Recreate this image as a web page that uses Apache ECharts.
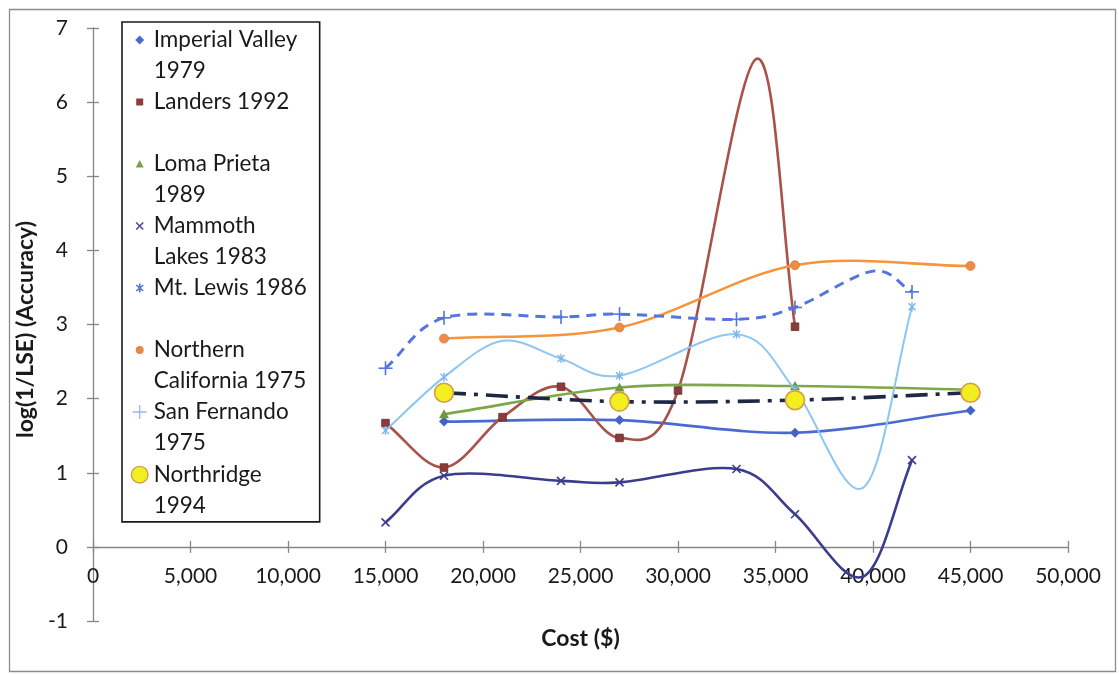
<!DOCTYPE html>
<html>
<head>
<meta charset="utf-8">
<title>Accuracy vs. cost</title>
<script src="https://cdn.jsdelivr.net/npm/echarts@6/dist/echarts.min.js"></script>
<style>
  html, body { margin: 0; padding: 0; background: #ffffff; }
  #chart { width: 1119px; height: 675px; }
</style>
</head>
<body>
<div id="chart"></div>
<script>
// ---- data: survey cost (US$) vs. accuracy log(1/LSE), one pair of arrays per earthquake ----
// a 0 in the *Marked arrays means the curve passes through that value without a marker
const imperialValleyCost = [18000, 27000, 36000, 45000];
const imperialValleyAcc  = [1.69, 1.71, 1.54, 1.84];

const landersCost   = [15000, 18000, 21000, 24000, 27000, 30000, 34000, 36000];
const landersAcc    = [1.67, 1.07, 1.75, 2.16, 1.47, 2.11, 6.58, 2.97];
const landersMarked = [1, 1, 1, 1, 1, 1, 0, 1];

const lomaPrietaCost = [18000, 27000, 36000, 45000];
const lomaPrietaAcc  = [1.79, 2.15, 2.17, 2.12];

const mammothCost   = [15000, 18000, 24000, 27000, 33000, 36000, 39500, 42000];
const mammothAcc    = [0.33, 0.96, 0.89, 0.87, 1.05, 0.44, -0.40, 1.17];
const mammothMarked = [1, 1, 1, 1, 1, 1, 0, 1];

const mtLewisCost   = [15000, 18000, 21000, 24000, 27000, 33000, 36000, 39500, 42000];
const mtLewisAcc    = [1.57, 2.29, 2.78, 2.54, 2.31, 2.87, 2.12, 0.80, 3.24];
const mtLewisMarked = [1, 1, 0, 1, 1, 1, 1, 0, 1];

const northernCalCost = [18000, 27000, 36000, 45000];
const northernCalAcc  = [2.81, 2.96, 3.80, 3.79];

const sanFernandoCost   = [15000, 18000, 24000, 27000, 33000, 36000, 40000, 42000];
const sanFernandoAcc    = [2.41, 3.09, 3.10, 3.14, 3.07, 3.23, 3.72, 3.44];
const sanFernandoMarked = [1, 1, 1, 1, 1, 1, 0, 1];

const northridgeCost = [18000, 27000, 36000, 45000];
const northridgeAcc  = [2.08, 1.96, 1.98, 2.08];

// legend captions, broken over two lines like the original key
const seriesNames = [
  'Imperial Valley 1979', 'Landers 1992', 'Loma Prieta 1989', 'Mammoth Lakes 1983',
  'Mt. Lewis 1986', 'Northern California 1975', 'San Fernando 1975', 'Northridge 1994'
];
const legendCaptions = [
  'Imperial Valley\n1979', 'Landers 1992\n ', 'Loma Prieta\n1989', 'Mammoth\nLakes 1983',
  'Mt. Lewis 1986\n ', 'Northern\nCalifornia 1975', 'San Fernando\n1975', 'Northridge\n1994'
];

// axis ranges
const costAxis = { min: 0, max: 50000, step: 5000 };
const accAxis  = { min: -1, max: 7, step: 1 };

// ---- drawing ----
const FONT = 'Lato, "Open Sans", "Liberation Sans", sans-serif';
const W = 1119, H = 675;
const gridBox = { left: 93, right: 51, top: 28, bottom: 54 };
// the cost axis crosses the accuracy axis at 0: shift it up from the grid's bottom edge
const plotH = H - gridBox.top - gridBox.bottom;
const costAxisOffset = -plotH * (0 - accAxis.min) / (accAxis.max - accAxis.min);

const looks = [
  { marker: 'diamond',  line: '#4A6AD0', mark: '#4562CC', key: '#4A6AD0', width: 2.6 },
  { marker: 'square',   line: '#A8524A', mark: '#8A3C3A', key: '#8E3F3C', width: 2.6 },
  { marker: 'triangle', line: '#7EA74C', mark: '#6F9A42', key: '#7A9F4D', width: 2.6 },
  { marker: 'cross',    line: '#3B3C8E', mark: '#3B3C8E', key: '#5147A8', width: 2.6 },
  { marker: 'star',     line: '#8DC6F2', mark: '#7DB6EC', key: '#5270D6', width: 2.0 },
  { marker: 'dot',      line: '#F5943C', mark: '#EE8C45', key: '#E38A4E', width: 2.6 },
  { marker: 'plus',     line: '#5474E0', mark: '#5474E0', key: '#98B8F0', width: 3.0, dash: [10, 7] },
  { marker: 'ring',     line: '#1E2744', mark: '#F3EE1F', key: '#F3EE1F', width: 3.6, dash: [22, 8, 4, 8] }
];

const table = [
  [imperialValleyCost, imperialValleyAcc, null],
  [landersCost, landersAcc, landersMarked],
  [lomaPrietaCost, lomaPrietaAcc, null],
  [mammothCost, mammothAcc, mammothMarked],
  [mtLewisCost, mtLewisAcc, mtLewisMarked],
  [northernCalCost, northernCalAcc, null],
  [sanFernandoCost, sanFernandoAcc, sanFernandoMarked],
  [northridgeCost, northridgeAcc, null]
];

// smooth curve through screen points: cubic Bezier segments, tangent at each point
// parallel to the chord of its neighbours (Catmull-Rom style, 1/3 arm at the ends)
function smoothPath(pts) {
  const f = (v) => v.toFixed(2);
  let d = 'M' + f(pts[0][0]) + ' ' + f(pts[0][1]);
  for (let i = 0; i < pts.length - 1; i++) {
    const p1 = pts[i], p2 = pts[i + 1];
    const p0 = i > 0 ? pts[i - 1] : p1;
    const p3 = i < pts.length - 2 ? pts[i + 2] : p2;
    const k0 = p0 === p1 ? 1 / 3 : 1 / 6;
    const k3 = p3 === p2 ? 1 / 3 : 1 / 6;
    const c1 = [p1[0] + (p2[0] - p0[0]) * k0, p1[1] + (p2[1] - p0[1]) * k0];
    const c2 = [p2[0] - (p3[0] - p1[0]) * k3, p2[1] - (p3[1] - p1[1]) * k3];
    d += 'C' + f(c1[0]) + ' ' + f(c1[1]) + ' ' + f(c2[0]) + ' ' + f(c2[1]) + ' ' + f(p2[0]) + ' ' + f(p2[1]);
  }
  return d;
}

function seg(x1, y1, x2, y2, color, w) {
  return { type: 'line', shape: { x1, y1, x2, y2 }, style: { stroke: color, lineWidth: w }, silent: true };
}

function markerEls(kind, x, y, color) {
  switch (kind) {
    case 'diamond':
      return [{ type: 'polygon', shape: { points: [[x, y - 5], [x + 5, y], [x, y + 5], [x - 5, y]] }, style: { fill: color } }];
    case 'square':
      return [{ type: 'rect', shape: { x: x - 3.8, y: y - 3.8, width: 7.6, height: 7.6 }, style: { fill: color, stroke: '#6C2B2A', lineWidth: 0.8 } }];
    case 'triangle':
      return [{ type: 'polygon', shape: { points: [[x, y - 5], [x + 5, y + 4], [x - 5, y + 4]] }, style: { fill: color } }];
    case 'cross':
      return [seg(x - 4, y - 4, x + 4, y + 4, color, 1.6), seg(x - 4, y + 4, x + 4, y - 4, color, 1.6)];
    case 'star':
      return [seg(x - 3.5, y - 3.5, x + 3.5, y + 3.5, color, 1.4), seg(x - 3.5, y + 3.5, x + 3.5, y - 3.5, color, 1.4),
              seg(x, y - 4.5, x, y + 4.5, color, 1.4)];
    case 'plus':
      return [seg(x - 7, y, x + 7, y, color, 1.6), seg(x, y - 7, x, y + 7, color, 1.6)];
    case 'dot':
      return [{ type: 'circle', shape: { cx: x, cy: y, r: 4.5 }, style: { fill: color, stroke: '#D77E3C', lineWidth: 0.8 } }];
    case 'ring':
      return [{ type: 'circle', shape: { cx: x, cy: y, r: 9.5 }, style: { fill: color, stroke: '#D29E4C', lineWidth: 1.6 } }];
  }
  return [];
}

// legend keys: filled outlines drawn in an 18 x 62 box, centred on the first text line
function bar(x1, y1, x2, y2, t) {
  const dx = x2 - x1, dy = y2 - y1, L = Math.hypot(dx, dy);
  const nx = -dy / L * t / 2, ny = dx / L * t / 2;
  const f = (v) => v.toFixed(2);
  return 'M' + f(x1 + nx) + ' ' + f(y1 + ny) + 'L' + f(x2 + nx) + ' ' + f(y2 + ny) +
         'L' + f(x2 - nx) + ' ' + f(y2 - ny) + 'L' + f(x1 - nx) + ' ' + f(y1 - ny) + 'Z';
}
function keyIcon(kind) {
  const cx = 9, cy = 15.5;
  let p = 'M0 0M18 62';
  const circ = (r) => 'M' + (cx - r) + ' ' + cy + 'A' + r + ' ' + r + ' 0 1 0 ' + (cx + r) + ' ' + cy +
                      'A' + r + ' ' + r + ' 0 1 0 ' + (cx - r) + ' ' + cy + 'Z';
  switch (kind) {
    case 'diamond': p += 'M9 11L13.5 15.5L9 20L4.5 15.5Z'; break;
    case 'square': p += 'M5.5 12H12.5V19H5.5Z'; break;
    case 'triangle': p += 'M9 11.5L13 19L5 19Z'; break;
    case 'cross': p += bar(5.5, 12, 12.5, 19, 1.7) + bar(5.5, 19, 12.5, 12, 1.7); break;
    case 'star': p += bar(5.5, 12.5, 12.5, 18.5, 1.6) + bar(5.5, 18.5, 12.5, 12.5, 1.6) + bar(9, 11, 9, 20, 1.6); break;
    case 'plus': p += bar(2, 15.5, 16, 15.5, 1.3) + bar(9, 8.5, 9, 22.5, 1.3); break;
    case 'dot': p += circ(4); break;
    case 'ring': p += circ(8.3); break;
  }
  return 'path://' + p;
}

const series = table.map(([xs, ys, marked], si) => {
  const look = looks[si];
  return {
    type: 'custom',
    name: seriesNames[si],
    coordinateSystem: 'cartesian2d',
    xAxisIndex: 0,
    yAxisIndex: 0,
    clip: false,
    silent: true,
    itemStyle: { color: look.key },
    data: xs.map((x, i) => [x, ys[i]]),
    renderItem(params, api) {
      const i = params.dataIndex;
      const children = [];
      if (i === 0) {
        const pts = xs.map((x, k) => api.coord([x, ys[k]]));
        children.push({
          type: 'path',
          shape: { pathData: smoothPath(pts) },
          style: { fill: null, stroke: look.line, lineWidth: look.width, lineDash: look.dash || null, lineCap: 'butt', lineJoin: 'round' },
          silent: true
        });
      }
      if (!marked || marked[i]) {
        const c = api.coord([api.value(0), api.value(1)]);
        markerEls(look.marker, c[0], c[1], look.mark).forEach((el) => children.push(el));
      }
      return { type: 'group', children };
    }
  };
});

const axisGrey = '#868686';
const inkColor = '#1A1A1A';
const option = {
  backgroundColor: '#ffffff',
  animation: false,
  textStyle: { fontFamily: FONT },
  grid: Object.assign({ containLabel: false, outerBoundsMode: 'none' }, gridBox),
  graphic: [{
    type: 'rect', left: 7, top: 7, z: -10,
    shape: { width: 1106, height: 662 },
    style: { fill: null, stroke: '#8C8C8C', lineWidth: 1.3 }
  }],
  legend: {
    orient: 'vertical',
    left: 122, top: 22,
    padding: [2.5, 13, 0, 8],
    itemGap: 0,
    itemWidth: 18, itemHeight: 62,
    selectedMode: false,
    borderColor: inkColor, borderWidth: 1.6,
    backgroundColor: '#ffffff',
    itemStyle: { borderWidth: 0 },
    textStyle: { fontFamily: FONT, fontSize: 22.5, color: inkColor, lineHeight: 31 },
    formatter: (name) => legendCaptions[seriesNames.indexOf(name)],
    data: seriesNames.map((name, i) => ({
      name,
      icon: keyIcon(looks[i].marker),
      itemStyle: looks[i].marker === 'ring'
        ? { color: looks[i].key, borderColor: '#D29E4C', borderWidth: 1.4 }
        : { color: looks[i].key, borderWidth: 0 }
    }))
  },
  xAxis: [{
    type: 'value',
    position: 'bottom',
    offset: costAxisOffset,
    min: costAxis.min, max: costAxis.max, interval: costAxis.step,
    name: 'Cost ($)', nameLocation: 'middle', nameGap: 80,
    nameTextStyle: { fontFamily: FONT, fontSize: 23, fontWeight: 'bold', color: inkColor },
    axisLine: { show: true, onZero: false, lineStyle: { color: axisGrey, width: 1.3 } },
    axisTick: { show: true, length: 6, lineStyle: { color: axisGrey, width: 1.3 } },
    axisLabel: { fontFamily: FONT, fontSize: 21, color: inkColor, margin: 19,
                 formatter: (v) => v.toLocaleString('en-US') },
    splitLine: { show: false }
  }, {
    type: 'value',
    position: 'bottom',
    offset: costAxisOffset,
    min: costAxis.min, max: costAxis.max, interval: costAxis.step,
    axisLine: { show: false, onZero: false },
    axisTick: { show: true, inside: true, length: 6, lineStyle: { color: axisGrey, width: 1.3 } },
    axisLabel: { show: false },
    splitLine: { show: false }
  }],
  yAxis: [{
    type: 'value',
    position: 'left',
    min: accAxis.min, max: accAxis.max, interval: accAxis.step,
    name: 'log(1/LSE) (Accuracy)', nameLocation: 'middle', nameGap: 53,
    nameTextStyle: { fontFamily: FONT, fontSize: 23, fontWeight: 'bold', color: inkColor, padding: [0, 10, 0, 0] },
    axisLine: { show: true, onZero: false, lineStyle: { color: axisGrey, width: 1.3 } },
    axisTick: { show: true, length: 6, lineStyle: { color: axisGrey, width: 1.3 } },
    axisLabel: { fontFamily: FONT, fontSize: 21, color: inkColor, margin: 25 },
    splitLine: { show: false }
  }, {
    type: 'value',
    position: 'left',
    min: accAxis.min, max: accAxis.max, interval: accAxis.step,
    axisLine: { show: false, onZero: false },
    axisTick: { show: true, inside: true, length: 6, lineStyle: { color: axisGrey, width: 1.3 } },
    axisLabel: { show: false },
    splitLine: { show: false }
  }],
  series
};

const chart = echarts.init(document.getElementById('chart'), null, { renderer: 'canvas', width: W, height: H });
chart.setOption(option);
</script>
</body>
</html>
